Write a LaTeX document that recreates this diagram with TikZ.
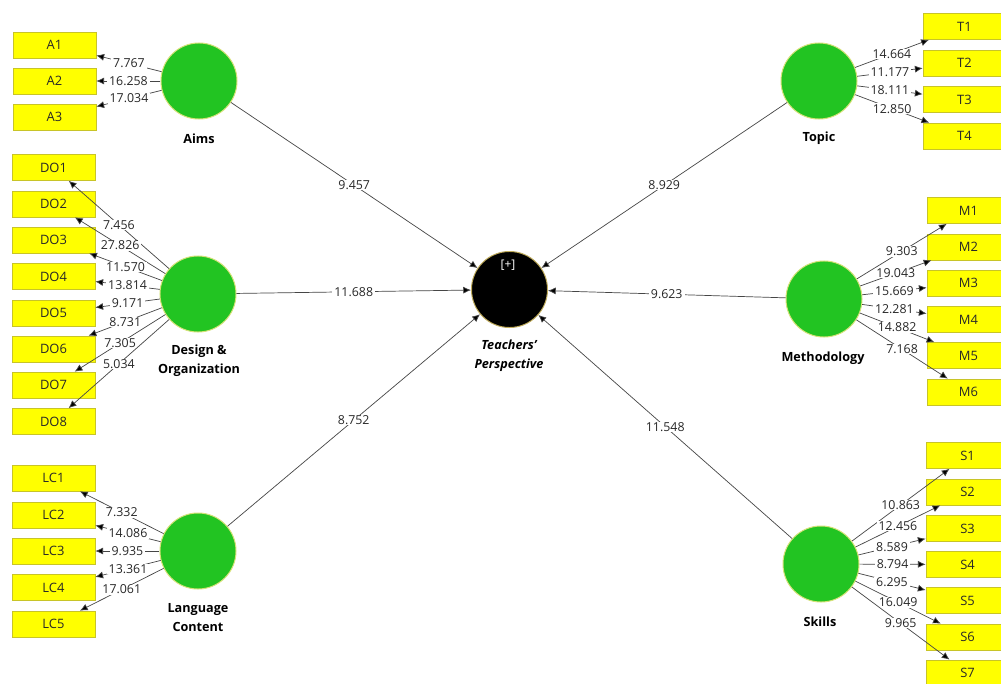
\documentclass[tikz,border=0pt]{standalone}
\usepackage{fontspec}
\setmainfont{Open Sans}
\usetikzlibrary{arrows.meta}
\definecolor{latgreen}{RGB}{34,196,34}
\definecolor{latborder}{RGB}{214,226,120}
\definecolor{indyellow}{RGB}{255,255,0}
\definecolor{indborder}{RGB}{200,196,40}
\definecolor{linegray}{RGB}{70,70,70}
\definecolor{txtgray}{RGB}{40,40,40}
\definecolor{tpborder}{RGB}{190,170,90}
\tikzset{
  lat/.style={circle, fill=latgreen, draw=latborder, line width=0.7pt, minimum size=1.9cm, inner sep=0pt},
  tpnode/.style={circle, fill=black, draw=tpborder, line width=0.7pt, minimum size=1.9cm, inner sep=0pt},
  ind/.style={rectangle, fill=indyellow, draw=indborder, line width=0.5pt, minimum width=2.075cm, minimum height=0.65cm, inner sep=0pt, font=\fontsize{9.2}{11}\selectfont, text=txtgray},
  lbl/.style={fill=white, inner xsep=1.4pt, inner ysep=0.4pt, font=\fontsize{8.8}{10}\selectfont, text=txtgray},
  ld/.style={draw=linegray, line width=0.5pt, -{Latex[length=5.5pt,width=5pt,fill=black]}},
  latname/.style={align=center, font=\fontsize{9}{13.5}\selectfont\bfseries, text=black},
}
\begin{document}
\begin{tikzpicture}[x=0.025cm, y=-0.025cm]
\clip (0,0) rectangle (1001,684);
\fill[white] (0,0) rectangle (1001,684);

% latent variables
\node[lat] (Aims) at (199,81) {};
\node[lat] (DO) at (198,294) {};
\node[lat] (LC) at (198,551) {};
\node[lat] (Topic) at (819,81) {};
\node[lat] (Meth) at (824,299) {};
\node[lat] (Skills) at (821,564) {};
\node[tpnode] (TP) at (509.5,289.5) {};
\node[text=white, font=\fontsize{8.5}{10}\selectfont] (plus) at (508,265) {[+]};

\node[latname] (AimsL) at (199,139) {Aims};
\node[latname] (DOL) at (199,361) {Design \&\\Organization};
\node[latname] (LCL) at (198,618) {Language\\Content};
\node[latname] (TopicL) at (819,138) {Topic};
\node[latname] (MethL) at (823,358) {Methodology};
\node[latname] (SkillsL) at (820,622) {Skills};
\node[latname, font=\fontsize{9}{13.5}\selectfont\bfseries\itshape] (TPL) at (509,356) {Teachers'\\Perspective};

% indicators
\foreach \n/\yy in {1/45,2/81,3/117} \node[ind] (A\n) at (54.5,\yy) {A\n};
\foreach \n/\yy in {1/167.5,2/204,3/240,4/276.5,5/313,6/349,7/385,8/421.5} \node[ind] (DO\n) at (53.5,\yy) {DO\n};
\foreach \n/\yy in {1/478,2/515,3/551,4/587.5,5/624} \node[ind] (LC\n) at (53.5,\yy) {LC\n};
\foreach \n/\yy in {1/26.5,2/63,3/99.5,4/136} \node[ind] (T\n) at (964.5,\yy) {T\n};
\foreach \n/\yy in {1/210.5,2/247,3/283,4/319.5,5/355.5,6/392} \node[ind] (M\n) at (968.5,\yy) {M\n};
\foreach \n/\yy in {1/455.5,2/492,3/528.5,4/564.5,5/600.5,6/637,7/673} \node[ind] (S\n) at (967.5,\yy) {S\n};

% outer loadings
\foreach \n/\v in {1/7.767,2/16.258,3/17.034} \draw[ld] (Aims) -- node[lbl] {\v} (A\n);
\foreach \n/\v in {1/7.456,2/27.826,3/11.570,4/13.814,5/9.171,6/8.731,7/7.305,8/5.034} \draw[ld] (DO) -- node[lbl] {\v} (DO\n);
\foreach \n/\v in {1/7.332,2/14.086,3/9.935,4/13.361,5/17.061} \draw[ld] (LC) -- node[lbl] {\v} (LC\n);
\foreach \n/\v in {1/14.664,2/11.177,3/18.111,4/12.850} \draw[ld] (Topic) -- node[lbl] {\v} (T\n);
\foreach \n/\v in {1/9.303,2/19.043,3/15.669,4/12.281,5/14.882,6/7.168} \draw[ld] (Meth) -- node[lbl] {\v} (M\n);
\foreach \n/\v in {1/10.863,2/12.456,3/8.589,4/8.794,5/6.295,6/16.049,7/9.965} \draw[ld] (Skills) -- node[lbl] {\v} (S\n);

% structural paths
\draw[ld] (Aims) -- node[lbl] {9.457} (TP);
\draw[ld] (DO) -- node[lbl] {11.688} (TP);
\draw[ld] (LC) -- node[lbl] {8.752} (TP);
\draw[ld] (Topic) -- node[lbl] {8.929} (TP);
\draw[ld] (Meth) -- node[lbl] {9.623} (TP);
\draw[ld] (Skills) -- node[lbl] {11.548} (TP);
\end{tikzpicture}
\end{document}
